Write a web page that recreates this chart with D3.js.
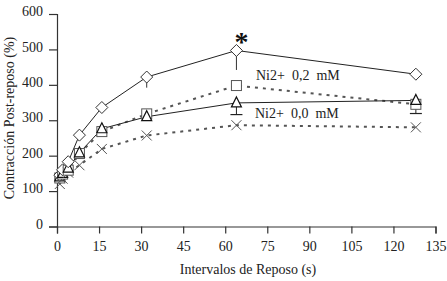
<!DOCTYPE html>
<html><head><meta charset="utf-8">
<script src="https://cdn.jsdelivr.net/npm/d3@7"></script>
<style>body{margin:0;background:#fff;} svg{display:block;} svg text{font-family:"Liberation Serif","Times New Roman",serif !important;}</style>
</head><body>
<svg id="c" width="447" height="281"></svg>
<script>
const intervals = [1, 2, 4, 8, 16, 32, 64, 128];
const diamondVals = [145, 160, 183, 258, 336, 422, 497, 430];
const diamondErrDown = [0, 0, 0, 0, 0, 30, 55, 0];
const squareVals = [137, 148, 159, 206, 268, 318, 398, 345];
const triangleVals = [140, 150, 165, 208, 276, 310, 349, 356];
const triangleErrUp = [0, 0, 0, 14, 14, 0, 0, 0];
const triangleErrDown = [0, 0, 0, 0, 0, 0, 33, 37];
const crossVals = [120, 135, 152, 173, 219, 257, 286, 280];
const xTicks = [0, 15, 30, 45, 60, 75, 90, 105, 120, 135];
const yTicks = [0, 100, 200, 300, 400, 500, 600];
const labels = ["Ni2+  0,2  mM", "Ni2+  0,0  mM"];

const svg = d3.select("#c");
const x = d3.scaleLinear().domain([0, 135]).range([57, 435.5]);
const y = d3.scaleLinear().domain([0, 600]).range([226.5, 14]);

// axes
const xAxis = svg.append("g").attr("transform", "translate(0,226.5)")
  .call(d3.axisBottom(x).tickValues(xTicks).tickSize(7).tickPadding(8));
const yAxis = svg.append("g").attr("transform", "translate(57,0)")
  .call(d3.axisLeft(y).tickValues(yTicks).tickSize(8).tickPadding(6));
[xAxis, yAxis].forEach(a => {
  a.attr("font-family", null);
  a.select(".domain").attr("stroke", "#333").attr("stroke-width", 1.2);
  a.selectAll(".tick line").attr("stroke", "#333").attr("stroke-width", 1.2);
  a.selectAll("text").attr("font-size", 14).attr("fill", "#222");
});
yAxis.selectAll("text").attr("dy", "0.12em");

// titles
svg.append("text").attr("x", 248).attr("y", 274).attr("text-anchor", "middle")
  .attr("font-size", 14).attr("fill", "#222").text("Intervalos de Reposo (s)");
svg.append("text").attr("transform", "translate(14,118) rotate(-90)").attr("text-anchor", "middle")
  .attr("font-size", 14).attr("fill", "#222").text("Contracción Post-reposo (%)");

const line = d3.line().x(d => x(d[0])).y(d => y(d[1]));
const pts = vals => intervals.map((t, i) => [t, vals[i]]);

// lines
svg.append("path").attr("d", line(pts(crossVals))).attr("fill", "none")
  .attr("stroke", "#555").attr("stroke-width", 2).attr("stroke-dasharray", "3,5");
svg.append("path").attr("d", line(pts(squareVals))).attr("fill", "none")
  .attr("stroke", "#555").attr("stroke-width", 2).attr("stroke-dasharray", "3,5");
svg.append("path").attr("d", line(pts(triangleVals))).attr("fill", "none")
  .attr("stroke", "#222").attr("stroke-width", 1);
svg.append("path").attr("d", line(pts(diamondVals))).attr("fill", "none")
  .attr("stroke", "#222").attr("stroke-width", 1);

// error bars
intervals.forEach((t, i) => {
  if (diamondErrDown[i]) {
    svg.append("line").attr("x1", x(t)).attr("x2", x(t))
      .attr("y1", y(diamondVals[i])).attr("y2", y(diamondVals[i] - diamondErrDown[i]))
      .attr("stroke", "#333").attr("stroke-width", 1);
  }
  if (triangleErrUp[i]) {
    svg.append("line").attr("x1", x(t)).attr("x2", x(t))
      .attr("y1", y(triangleVals[i])).attr("y2", y(triangleVals[i] + triangleErrUp[i]))
      .attr("stroke", "#222").attr("stroke-width", 1.5);
  }
  if (triangleErrDown[i]) {
    const yb = y(triangleVals[i] - triangleErrDown[i]);
    svg.append("line").attr("x1", x(t)).attr("x2", x(t))
      .attr("y1", y(triangleVals[i])).attr("y2", yb).attr("stroke", "#222").attr("stroke-width", 1);
    svg.append("line").attr("x1", x(t) - 6).attr("x2", x(t) + 6)
      .attr("y1", yb).attr("y2", yb).attr("stroke", "#222").attr("stroke-width", 1.2);
  }
});

// markers
const mk = svg.append("g").attr("fill", "#fff").attr("stroke", "#333").attr("stroke-width", 1);
intervals.forEach((t, i) => {
  const cx = x(t);
  let cy = y(crossVals[i]);
  mk.append("path").attr("d", `M${cx-5},${cy-5}L${cx+5},${cy+5}M${cx-5},${cy+5}L${cx+5},${cy-5}`).attr("stroke", "#555");
  cy = y(squareVals[i]);
  mk.append("rect").attr("x", cx - 5).attr("y", cy - 5).attr("width", 10).attr("height", 10).attr("stroke", "#555");
  cy = y(triangleVals[i]);
  mk.append("path").attr("d", `M${cx},${cy-6}L${cx+5},${cy+4}L${cx-5},${cy+4}Z`).attr("stroke", "#111").attr("stroke-width", 1.2);
  cy = y(diamondVals[i]);
  mk.append("path").attr("d", `M${cx},${cy-6}L${cx+6},${cy}L${cx},${cy+6}L${cx-6},${cy}Z`);
});

// annotations
svg.append("text").attr("x", x(64) + 5).attr("y", 51).attr("text-anchor", "middle")
  .attr("font-size", 28).attr("font-weight", "bold").attr("fill", "#111").text("*");
svg.append("text").attr("x", 256).attr("y", 80).attr("font-size", 14).attr("fill", "#222")
  .style("white-space", "pre").text(labels[0]);
svg.append("text").attr("x", 255).attr("y", 118).attr("font-size", 14).attr("fill", "#222")
  .style("white-space", "pre").text(labels[1]);
</script>
</body></html>
